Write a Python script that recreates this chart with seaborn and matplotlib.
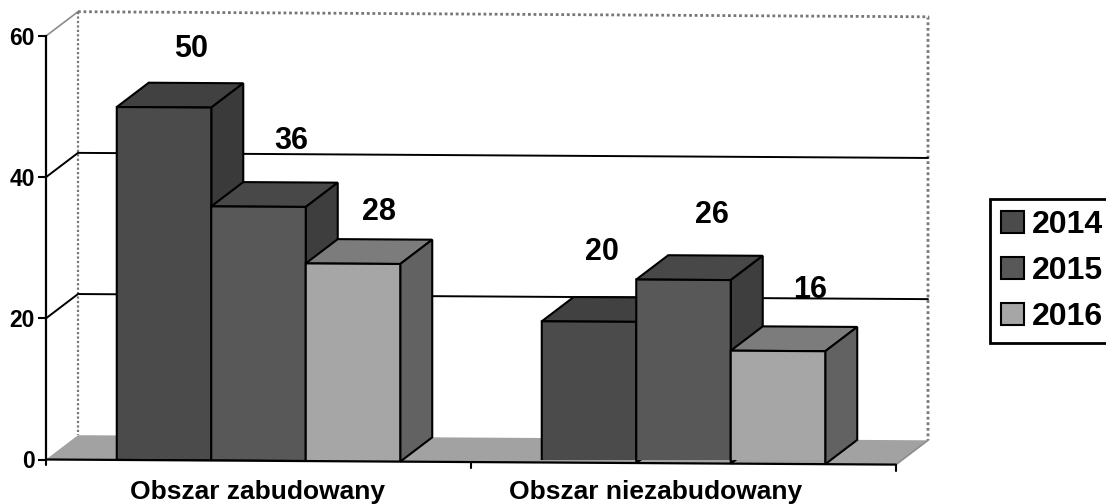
import numpy as np
import pandas as pd
import matplotlib
matplotlib.use("Agg")
import matplotlib.pyplot as plt
from matplotlib.patches import Polygon
from matplotlib.transforms import Affine2D
import seaborn as sns

# Dane
kategorie = ["Obszar zabudowany", "Obszar niezabudowany"]
lata = ["2014", "2015", "2016"]
wartosci_2014 = [50, 20]
wartosci_2015 = [36, 26]
wartosci_2016 = [28, 16]
yticks = [0, 20, 40, 60]

# Wyglad
kolory = {"2014": "#4b4b4b", "2015": "#585858", "2016": "#a6a6a6"}
kolory_bok = {"2014": "#3a3a3a", "2015": "#3e3e3e", "2016": "#626262"}
kolory_gora = {"2014": "#414141", "2015": "#484848", "2016": "#7c7c7c"}
GLEBOKOSC_X = 0.0753   # przesuniecie 3D w jednostkach osi x
GLEBOKOSC_Y = 3.47     # przesuniecie 3D w jednostkach osi y
# przesuniecia etykiet w pikselach, w kolejnosci slupkow
OFFSETY = [(27, 58), (33, 66), (26, 52), (13, 70), (28, 65), (32, 61)]

sns.set_theme(style="white")
plt.rcParams["font.family"] = ["Liberation Sans", "DejaVu Sans"]
plt.rcParams["font.weight"] = "bold"
plt.rcParams["text.color"] = "black"
plt.rcParams["ytick.color"] = "black"

df = pd.DataFrame({
    "kategoria": kategorie * 3,
    "rok": np.repeat(lata, 2),
    "wartosc": wartosci_2014 + wartosci_2015 + wartosci_2016,
})

fig = plt.figure(figsize=(11.06, 5.04), dpi=100)
ax = fig.add_axes([46 / 1106, (504 - 459.5) / 504, 850 / 1106, 423.5 / 504])

sns.barplot(data=df, x="kategoria", y="wartosc", hue="rok", hue_order=lata,
            palette=kolory, width=0.667, gap=0, edgecolor="black", linewidth=1.5,
            saturation=1, ax=ax)
ax.set_xlim(-0.5, 1.5)
ax.set_ylim(0, 60)
ax.set_xlabel("")
ax.set_ylabel("")

# Zdjecie jest lekko przekrzywione
nachylenie = Affine2D().translate(-46, 0).skew(0, -np.arctan(0.006)).translate(46, 0)
tr = ax.transData + nachylenie

# Tylna sciana i podloga
x0, x1 = -0.5, 1.5
dx, dy = GLEBOKOSC_X, GLEBOKOSC_Y
ax.add_patch(Polygon([(x0, 0), (x0 + dx, dy), (x1 + dx, dy), (x1, 0)], closed=True,
                     facecolor="#a2a2a2", edgecolor="none", transform=tr, zorder=1, clip_on=False))
kropki = (0, (1, 1))
ax.plot([x0, x0 + dx], [60, 60 + dy], color="#8c8c8c", lw=1.2, transform=tr,
        clip_on=False, zorder=1)
ax.plot([x0 + dx, x0 + dx], [60 + dy, dy], color="#777777", lw=1.6, ls=kropki,
        transform=tr, clip_on=False, zorder=1)
ax.plot([x0 + dx, x1 + dx, x1 + dx], [60 + dy, 60 + dy, dy], color="#777777", lw=2,
        ls=kropki, transform=tr, clip_on=False, zorder=1)
ax.plot([x1 + dx, x1], [dy, 0], color="#8c8c8c", lw=1.2, transform=tr,
        clip_on=False, zorder=1)
for y in yticks[1:3]:
    ax.plot([x0, x0 + dx, x1 + dx], [y, y + dy, y + dy], color="black", lw=1.4,
            transform=tr, clip_on=False, zorder=1.5)

# Slupki 3D
slupki = []
for cont, rok in zip(ax.containers, lata):
    for p in cont.patches:
        slupki.append((p, rok))
slupki.sort(key=lambda s: s[0].get_x())

for i, (p, rok) in enumerate(slupki):
    x, w, h = p.get_x(), p.get_width(), p.get_height()
    z = 3 + i
    p.set_transform(tr)
    p.set_zorder(z + 0.2)
    ax.add_patch(Polygon([(x, h), (x + dx, h + dy), (x + w + dx, h + dy), (x + w, h)],
                         closed=True, facecolor=kolory_gora[rok], edgecolor="black",
                         lw=1.5, transform=tr, zorder=z, clip_on=False))
    ax.add_patch(Polygon([(x + w, 0), (x + w + dx, dy), (x + w + dx, h + dy), (x + w, h)],
                         closed=True, facecolor=kolory_bok[rok], edgecolor="black",
                         lw=1.5, transform=tr, zorder=z, clip_on=False))
    xy = tr.transform((x + w / 2, h))
    ax.annotate(str(int(h)), xy=xy, xycoords="figure pixels", xytext=OFFSETY[i],
                textcoords="offset pixels", ha="center", va="center", fontsize=22,
                fontweight="bold", color="black", zorder=20)

# Osie
sns.despine(ax=ax, bottom=True)
ax.spines["left"].set_linewidth(1.6)
ax.spines["left"].set_color("black")
ax.spines["left"].set_zorder(30)
ax.set_yticks(yticks)
ax.tick_params(axis="y", left=True, length=6, width=1.5, color="black", pad=2, labelsize=16.5)
ax.set_xticks([])
ax.plot([x0, x1], [0, 0], color="black", lw=1.6, transform=tr, clip_on=False, zorder=30)
for xt in [-0.5, 0.5, 1.5]:
    ax.plot([xt, xt], [0, -0.85], color="black", lw=1.5, transform=tr, clip_on=False, zorder=30)

# Podpisy kategorii
for xc, nazwa, off in zip([0, 1], kategorie, [(-1, -33), (-28, -32)]):
    ax.annotate(nazwa, xy=(xc, 0), xycoords="data", xytext=off, textcoords="offset pixels",
                ha="center", va="center", fontsize=19, fontweight="bold", color="black",
                annotation_clip=False)

# Legenda
sns.move_legend(ax, "upper left", bbox_to_anchor=(990 / 1106, (504 - 199) / 504),
                bbox_transform=fig.transFigure, title=None, frameon=True, fontsize=23,
                fancybox=False, framealpha=1, edgecolor="black", borderaxespad=0,
                borderpad=0.35, handlelength=0.72, handleheight=0.72, handletextpad=0.25,
                labelspacing=0.5)
ax.get_legend().get_frame().set_linewidth(2)
ax.get_legend().set_zorder(40)

fig.savefig("out.png", dpi=100)
